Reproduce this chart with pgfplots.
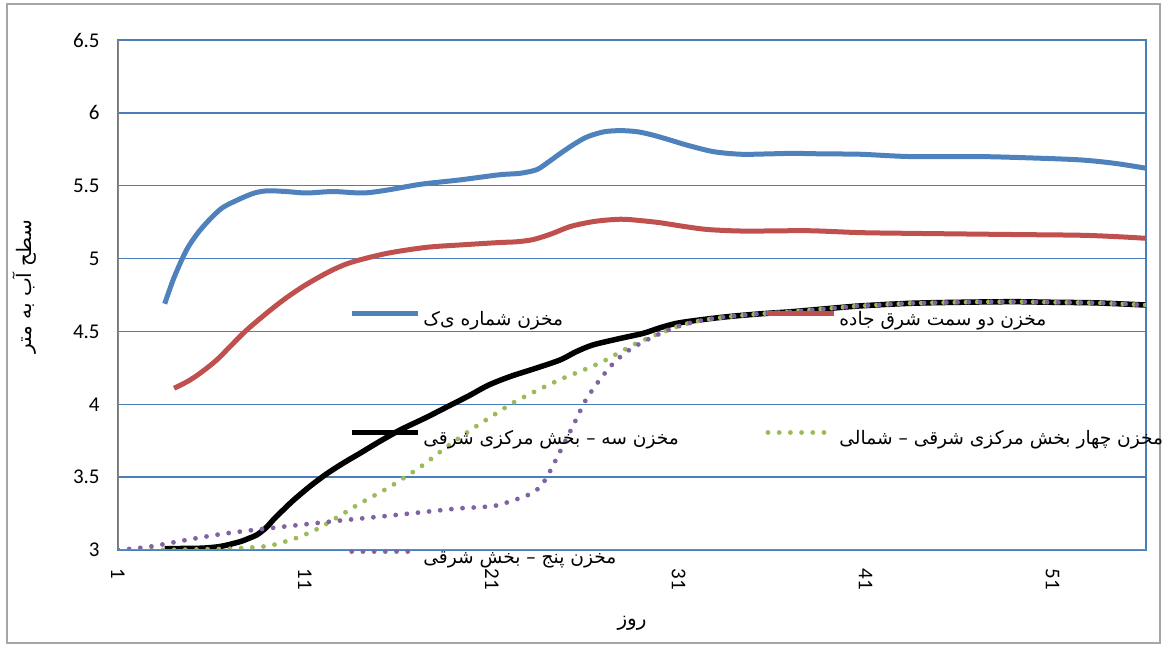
\documentclass[border=0pt]{standalone}
\usepackage{pgfplots}
\pgfplotsset{compat=1.18}
\usepackage{fontspec}
\setmainfont{Carlito}
\newfontfamily\arabicfont[Script=Arabic]{DejaVu Sans}
\TeXXeTstate=1

\definecolor{sblue}{HTML}{4F81BD}
\definecolor{sred}{HTML}{C0504D}
\definecolor{sgreen}{HTML}{9BBB59}
\definecolor{spurple}{HTML}{8064A2}
\definecolor{gridblue}{HTML}{4A7EBB}
\definecolor{axisgray}{HTML}{868686}
\definecolor{framegray}{HTML}{A6A6A6}

% legend text: fixed-width box with a strut, right-to-left run given inside
\newcommand\legtext[2]{\hspace*{1.5pt}\makebox[#1][l]{\rule[-7pt]{0pt}{20pt}\fontsize{9.3}{11}\arabicfont #2}}

\tikzset{dots/.style={line width=2.4pt, line cap=round, dash pattern=on 0pt off 5.6pt}}

\begin{document}
\begin{tikzpicture}
\useasboundingbox (0pt,0pt) rectangle (582pt,323.5pt);
\draw[framegray, line width=0.75pt] (3.5pt,2pt) rectangle (580pt,321.5pt);
\begin{axis}[
  at={(59pt,48.5pt)}, anchor=south west,
  scale only axis, width=514pt, height=255pt,
  xmin=1, xmax=56, ymin=3, ymax=6.5,
  xtick={1,11,21,31,41,51},
  ytick={3,3.5,4,4.5,5,5.5,6,6.5},
  major tick length=0pt,
  ymajorgrids,
  grid style={gridblue, line width=0.75pt},
  axis line style={gridblue, line width=0.75pt},
  tick label style={font=\fontsize{10.5}{12}\selectfont},
  /pgf/number format/assume math mode=true,
  yticklabel style={anchor=east, inner xsep=0pt, xshift=-9pt},
  xticklabel style={rotate=-90, anchor=west, inner xsep=9pt},
  xlabel={\fontsize{10}{12}\arabicfont\beginR روز\endR},
  ylabel={\fontsize{10}{12}\arabicfont\beginR سطح آب به متر\endR},
  every axis x label/.style={at={(rel axis cs:0.5,-0.143)}, anchor=center},
  every axis y label/.style={at={(rel axis cs:-0.0905,0.516)}, rotate=90, anchor=center},
  legend columns=2,
  legend image code/.code={\draw[#1] (0pt,0pt) -- (33pt,0pt);},
  legend style={at={(0.2247,0.4921)}, anchor=north west, draw=none, fill=none,
    inner sep=0pt, outer sep=0pt, row sep=45pt, column sep=0pt,
    nodes={inner sep=0pt, outer sep=0pt, anchor=west}},
]
% reservoir one
\addplot[sblue, line width=2.5pt, smooth] coordinates {
(3.5,4.69) (4.0,4.87) (4.67,5.06) (5.3,5.18) (5.92,5.27) (6.6,5.35) (7.53,5.41)
(8.3,5.45) (9.0,5.465) (10,5.46) (11.1,5.45) (12.5,5.46) (14.1,5.45) (15.4,5.47)
(17.2,5.51) (19.3,5.54) (21.4,5.575) (22.5,5.585) (23.4,5.61) (24.0,5.66)
(24.65,5.72) (25.4,5.785) (26.1,5.835) (27.0,5.87) (27.9,5.878) (28.8,5.87)
(29.6,5.848) (30.5,5.815) (31.4,5.78) (32.85,5.734) (34.3,5.716) (35.7,5.718)
(37.1,5.722) (38.9,5.718) (40.7,5.716) (43.4,5.70) (47.1,5.70) (50,5.69)
(52.5,5.677) (54.3,5.654) (56,5.62)};
\addlegendentry{\legtext{171pt}{\beginR مخزن شماره ی‌ک\endR}}
% reservoir two
\addplot[sred, line width=2.5pt, smooth] coordinates {
(4.0,4.11) (4.7,4.155) (5.39,4.213) (6.28,4.304) (7.1,4.41) (7.89,4.51) (8.9,4.62)
(9.85,4.716) (10.8,4.80) (11.8,4.876) (12.7,4.935) (13.6,4.979) (15.4,5.036)
(17.5,5.077) (19.5,5.095) (21.4,5.11) (22.3,5.115) (23.2,5.13) (24.2,5.17)
(25.2,5.22) (26.5,5.255) (27.9,5.27) (29,5.26) (30,5.246) (31.3,5.22) (32.5,5.20)
(34,5.19) (35.35,5.189) (38,5.191) (40.7,5.178) (43.4,5.173) (48.9,5.165)
(52.5,5.16) (54.5,5.15) (56,5.139)};
\addlegendentry{\legtext{150pt}{\beginR مخزن دو سمت شرق جاده\endR}}
% reservoir three
\addplot[black, line width=2.75pt, smooth] coordinates {
(3.5,3.01) (5.4,3.012) (6.5,3.025) (7.53,3.057) (8.0,3.08) (8.42,3.103) (8.9,3.15)
(9.3,3.206) (9.8,3.27) (10.4,3.343) (11.3,3.44) (12.2,3.526) (13.1,3.60)
(13.95,3.664) (15.0,3.745) (16.1,3.824) (17.5,3.91) (18.8,3.995) (19.8,4.06)
(20.8,4.13) (21.97,4.19) (23.3,4.245) (24.65,4.304) (25.5,4.36) (26.4,4.407)
(27.8,4.45) (29.1,4.487) (30.0,4.525) (30.9,4.556) (32.2,4.58) (33.6,4.601)
(35.3,4.62) (37.1,4.636) (38.9,4.656) (40.7,4.675) (43.4,4.693) (46,4.70)
(48.9,4.704) (51,4.70) (53,4.697) (54.5,4.69) (56,4.681)};
\addlegendentry{\legtext{171pt}{\beginR مخزن سه – بخش مرکزی شرقی\endR}}
% reservoir four
\addplot[sgreen, dots, smooth] coordinates {
(1,3.0) (3,3.0) (5,3.003) (7.2,3.01) (9,3.027) (10,3.06) (10.7,3.09) (11.6,3.14)
(12.5,3.206) (13.95,3.32) (15.55,3.434) (17.2,3.572) (18.6,3.709) (20,3.835)
(21.1,3.926) (22.15,4.011) (23.5,4.10) (24.8,4.178) (26,4.24) (27.1,4.304)
(28.75,4.419) (30.9,4.532) (32.2,4.575) (33.6,4.60) (35.3,4.62) (37.1,4.636)
(38.9,4.656) (40.7,4.675) (43.4,4.693) (46,4.70) (48.9,4.704) (51,4.70)
(53,4.697) (54.5,4.69) (56,4.681)};
\addlegendentry{\legtext{150pt}{\beginR مخزن چهار بخش مرکزی شرقی – شمالی\endR}}
% reservoir five
\addplot[spurple, dots, smooth] coordinates {
(1,3.0) (2,3.012) (2.9,3.027) (4.67,3.069) (6.46,3.108) (8.24,3.137) (10.7,3.172)
(13.2,3.206) (15.55,3.236) (18.05,3.27) (19.3,3.286) (21.1,3.302) (22.2,3.343)
(22.9,3.375) (23.4,3.412) (23.8,3.47) (24.1,3.537) (24.65,3.675) (25.45,3.88)
(26,4.023) (26.7,4.155) (27.5,4.281) (28.4,4.377) (29.65,4.464) (30.9,4.532)
(32.2,4.575) (33.6,4.601) (35.3,4.62) (37.1,4.636) (38.9,4.656) (40.7,4.675)
(43.4,4.693) (46,4.70) (48.9,4.704) (51,4.70) (53,4.697) (54.5,4.69) (56,4.681)};
\addlegendentry{\legtext{171pt}{\beginR مخزن پنج – بخش شرقی\endR}}
\draw[axisgray, line width=0.75pt] (rel axis cs:0,1) -- (rel axis cs:0,0) -- (rel axis cs:1,0);
\end{axis}
\end{tikzpicture}
\end{document}
